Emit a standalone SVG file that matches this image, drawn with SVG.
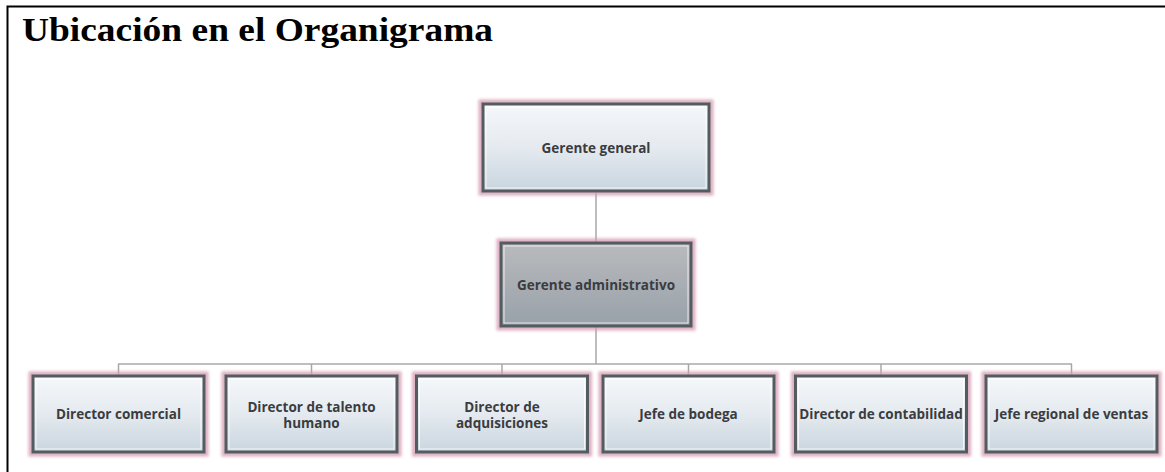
<svg xmlns="http://www.w3.org/2000/svg" width="1165" height="472" viewBox="0 0 1165 472">
  <defs>
    <linearGradient id="fillLight" x1="0" y1="0" x2="0" y2="1">
      <stop offset="0" stop-color="#f6f8fa"/>
      <stop offset="0.5" stop-color="#e4eaef"/>
      <stop offset="1" stop-color="#c9d5df"/>
    </linearGradient>
    <linearGradient id="fillDark" x1="0" y1="0" x2="0" y2="1">
      <stop offset="0" stop-color="#b9babd"/>
      <stop offset="1" stop-color="#98a1a9"/>
    </linearGradient>
    <filter id="glow" x="-10%" y="-20%" width="120%" height="140%">
      <feGaussianBlur stdDeviation="1.6"/>
    </filter>
    <style>
      .title { font-family: "Liberation Serif", "Times New Roman", serif; font-weight: bold; font-size: 33px; fill: #000; }
      .frame { stroke: #000; stroke-width: 2; fill: none; }
      .halo { fill: none; stroke: #d49ab0; stroke-opacity: 0.8; stroke-width: 5; filter: url(#glow); }
      .box { stroke: #555c61; stroke-width: 3; }
      .bevel { fill: none; stroke: #ffffff; stroke-opacity: 0.75; stroke-width: 1; }
      .lbl { font-family: "Open Sans", Lato, sans-serif; font-weight: 700; font-size: 13.5px; fill: #3a3c3f; text-anchor: middle; }
      .conn line { stroke: #a6a8aa; stroke-width: 1.5; }
    </style>
  </defs>

  <rect width="1165" height="472" fill="#ffffff"/>

  <!-- page frame -->
  <path class="frame" d="M7.5,472 V6.5 H1165"/>
  <text class="title" transform="translate(22,41) scale(1.135,1)">Ubicación en el Organigrama</text>

  <!-- connectors -->
  <g class="conn">
    <line x1="596" y1="193" x2="596" y2="242"/>
    <line x1="596" y1="327" x2="596" y2="364"/>
    <line x1="118" y1="364" x2="1072" y2="364"/>
    <line x1="118.5" y1="364" x2="118.5" y2="375"/>
    <line x1="311.5" y1="364" x2="311.5" y2="375"/>
    <line x1="502" y1="364" x2="502" y2="375"/>
    <line x1="688.5" y1="364" x2="688.5" y2="375"/>
    <line x1="881" y1="364" x2="881" y2="375"/>
    <line x1="1071.5" y1="364" x2="1071.5" y2="375"/>
  </g>

  <!-- top level -->
  <g id="gerente-general">
    <rect class="halo" x="481" y="102" width="230" height="91"/>
    <rect class="box" x="483" y="104" width="226" height="87" fill="url(#fillLight)"/>
    <rect class="bevel" x="486" y="107" width="220" height="81"/>
    <text class="lbl" x="596" y="153">Gerente general</text>
  </g>

  <g id="gerente-administrativo">
    <rect class="halo" x="499" y="241" width="194" height="87"/>
    <rect class="box" x="501" y="243" width="190" height="83" fill="url(#fillDark)"/>
    <rect class="bevel" x="504" y="246" width="184" height="77"/>
    <text class="lbl" x="596" y="290">Gerente administrativo</text>
  </g>

  <!-- third level -->
  <g id="director-comercial">
    <rect class="halo" x="31" y="374" width="175" height="80"/>
    <rect class="box" x="33" y="376" width="171" height="76" fill="url(#fillLight)"/>
    <rect class="bevel" x="36" y="379" width="165" height="70"/>
    <text class="lbl" x="118.5" y="419">Director comercial</text>
  </g>

  <g id="director-talento-humano">
    <rect class="halo" x="224" y="374" width="175" height="80"/>
    <rect class="box" x="226" y="376" width="171" height="76" fill="url(#fillLight)"/>
    <rect class="bevel" x="229" y="379" width="165" height="70"/>
    <text class="lbl" x="311.5" y="412">Director de talento</text>
    <text class="lbl" x="311.5" y="428">humano</text>
  </g>

  <g id="director-adquisiciones">
    <rect class="halo" x="414.5" y="374" width="175" height="80"/>
    <rect class="box" x="416.5" y="376" width="171" height="76" fill="url(#fillLight)"/>
    <rect class="bevel" x="419.5" y="379" width="165" height="70"/>
    <text class="lbl" x="502" y="412">Director de</text>
    <text class="lbl" x="502" y="428">adquisiciones</text>
  </g>

  <g id="jefe-bodega">
    <rect class="halo" x="601" y="374" width="175" height="80"/>
    <rect class="box" x="603" y="376" width="171" height="76" fill="url(#fillLight)"/>
    <rect class="bevel" x="606" y="379" width="165" height="70"/>
    <text class="lbl" x="688.5" y="419">Jefe de bodega</text>
  </g>

  <g id="director-contabilidad">
    <rect class="halo" x="793.5" y="374" width="175" height="80"/>
    <rect class="box" x="795.5" y="376" width="171" height="76" fill="url(#fillLight)"/>
    <rect class="bevel" x="798.5" y="379" width="165" height="70"/>
    <text class="lbl" x="881" y="419">Director de contabilidad</text>
  </g>

  <g id="jefe-regional-ventas">
    <rect class="halo" x="984" y="374" width="175" height="80"/>
    <rect class="box" x="986" y="376" width="171" height="76" fill="url(#fillLight)"/>
    <rect class="bevel" x="989" y="379" width="165" height="70"/>
    <text class="lbl" x="1071.5" y="419">Jefe regional de ventas</text>
  </g>
</svg>
